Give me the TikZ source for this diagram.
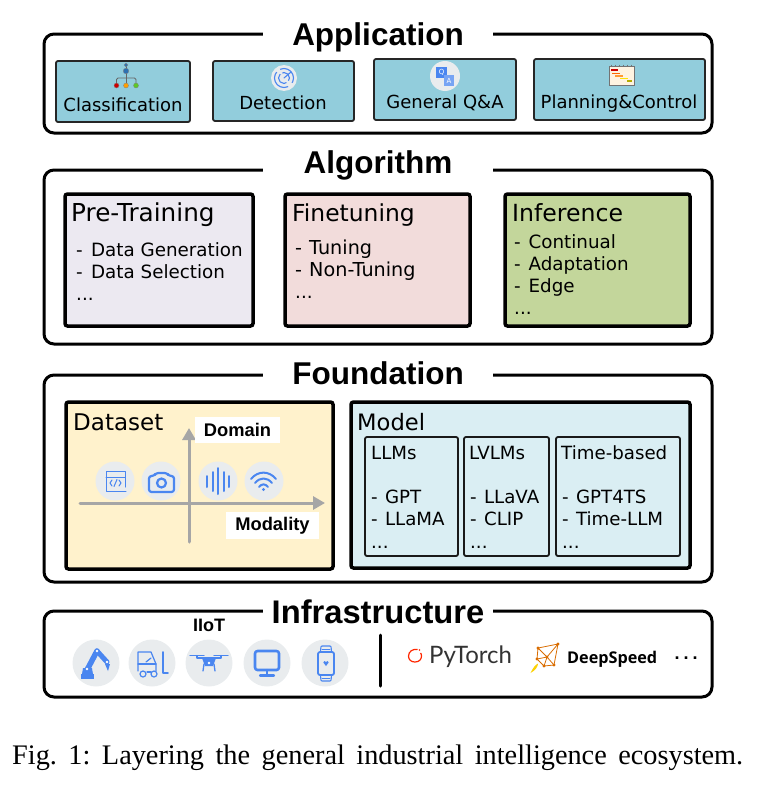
\documentclass[tikz,border=0pt]{standalone}
\usepackage{fontspec}
\setmainfont{DejaVu Sans}
\newfontfamily\headfont{Liberation Sans}
\newfontfamily\capfont{Liberation Serif}
\newfontfamily\torchfont{Lato}
\newfontfamily\speedfont{Open Sans}
\usetikzlibrary{arrows.meta}
\definecolor{iconblue}{HTML}{4A86F0}
\definecolor{discgray}{HTML}{E9ECEE}
\definecolor{axisgray}{HTML}{A6A6A6}
\newcommand{\itemdash}[1]{-\kern#1\ }
\tikzset{
    layerbox/.style={draw=black, line width=3pt, rounded corners=10pt},
    layertitle/.style={anchor=base, fill=white, inner sep=0pt, minimum width=230pt, minimum height=32pt, font=\headfont\bfseries\fontsize{31.5}{36}\selectfont},
    appbox/.style={draw=black!85, line width=1.8pt, rounded corners=2pt, fill=appblue},
    apptext/.style={anchor=base, inner sep=0pt, font=\fontsize{18}{22}\selectfont},
    stagebox/.style={draw=black, line width=3.5pt, rounded corners=2.5pt},
    stagetitle/.style={anchor=base west, inner sep=0pt, font=\fontsize{24.7}{28}\selectfont},
    itemtext/.style={anchor=base west, inner sep=0pt, font=\fontsize{18.3}{22}\selectfont},
    subbox/.style={draw=black!90, line width=1.8pt, rounded corners=2pt},
    subtext/.style={anchor=base west, inner sep=0pt, font=\fontsize{18.2}{22}\selectfont},
    axisline/.style={draw=axisgray, line width=3pt, line cap=round, -{Triangle[length=12pt,width=13pt]}},
    axislabel/.style={fill=white, inner sep=0pt, font=\headfont\bfseries\fontsize{18.3}{22}\selectfont},
    icondisc/.style={circle, fill=discgray, inner sep=0pt, minimum size=#1},
    iconline/.style={draw=iconblue, line width=1.5pt, line cap=round, line join=round},
}
\definecolor{appblue}{HTML}{92CDDC}
\definecolor{pregray}{HTML}{ECE9F1}
\definecolor{finered}{HTML}{F2DCDB}
\definecolor{infgreen}{HTML}{C3D69B}
\definecolor{datayellow}{HTML}{FFF2CC}
\definecolor{modelblue}{HTML}{DAEEF3}
\begin{document}
\begin{tikzpicture}[x=1pt, y=-1pt]
    \useasboundingbox (0,0) rectangle (783,811);

    % layer frames
    \draw[layerbox] (44,34) rectangle (712,133);
    \draw[layerbox] (44,170) rectangle (712,344);
    \draw[layerbox] (44,375) rectangle (712,582);
    \draw[layerbox] (44,611) rectangle (712,697);
    \node[layertitle] (apptitle) at (378,45) {Application};
    \node[layertitle] (algtitle) at (378,173) {Algorithm};
    \node[layertitle] (foundtitle) at (378,384) {Foundation};
    \node[layertitle, font=\headfont\bfseries\fontsize{32.7}{36}\selectfont] (infratitle) at (378,623) {Infrastructure};

    % application
    \draw[appbox] (56,61) rectangle (190,122);
    \draw[appbox] (213,61) rectangle (354,121);
    \draw[appbox] (374,59) rectangle (516,120);
    \draw[appbox] (534,59) rectangle (705,120);
    \node[apptext] (classlabel) at (123,111) {Classification};
    \node[apptext] (detectlabel) at (283,109) {Detection};
    \node[apptext] (qalabel) at (445,108) {General Q\&A};
    \node[apptext] (planlabel) at (619,108) {Planning\&Control};

    % tree icon
    \draw[draw=black!60, line width=0.8pt, rounded corners=1.5pt] (116.5,85) -- (116.5,78) -- (136,78) -- (136,85);
    \draw[draw=black!60, line width=0.8pt] (126,66) -- (126,85);
    \fill[fill=cyan!55!blue!85!black, draw=black!50, line width=0.3pt] (126,65) circle (1.8);
    \fill[fill=cyan!55!blue!85!black, draw=black!50, line width=0.3pt] (126,71) circle (2.8);
    \fill[fill=red!80!black, draw=black!50, line width=0.3pt] (116.5,85.5) circle (2.5);
    \fill[fill=orange!75!yellow, draw=black!50, line width=0.3pt] (126,85.5) circle (2.5);
    \fill[fill=green!50!olive!85, draw=black!50, line width=0.3pt] (136,85.5) circle (2.5);

    % radar icon
    \node[icondisc=26pt] (detectdisc) at (284,78) {};
    \draw[iconline, line width=1.1pt] (284,78) circle (9.5);
    \draw[iconline, line width=1.1pt] (284,78) circle (5.5);
    \draw[iconline, line width=1.1pt] (284,78) -- (291,72);
    \fill[discgray] (275,71) -- (279,68) -- (284,76) -- cycle;
    \fill[discgray] (289,88) -- (294,84) -- (285,79) -- cycle;

    % q and a icon
    \node[icondisc=30pt] (qadisc) at (445,76) {};
    \fill[iconblue] (436,67) rectangle (447,78);
    \fill[iconblue!75] (444,75) rectangle (454,86);
    \node[inner sep=0pt, text=white, font=\fontsize{7}{8}\selectfont] (qaq) at (441.5,72.5) {Q};
    \node[inner sep=0pt, text=white, font=\fontsize{7}{8}\selectfont] (qaa) at (449,81) {A};

    % gantt icon
    \draw[fill=yellow!12!orange!10, draw=black!55, line width=0.9pt] (609.5,66) rectangle (634,85);
    \foreach \xx in {611,615,619,623,627,631}
        \draw[draw=black!55, line width=0.7pt] (\xx,64.5) -- (\xx,66);
    \draw[draw=red!80!black, line width=1.1pt] (611,70) -- (618,70);
    \draw[draw=orange!80!red, line width=1.1pt] (612,73.5) -- (620,73.5);
    \draw[draw=orange!80, line width=1.1pt] (615,76) -- (623,76);
    \draw[draw=yellow!85!orange, line width=1.1pt] (620,78.5) -- (628,78.5);
    \draw[draw=olive!65!yellow, line width=1.1pt] (627,81) -- (632,81);

    % algorithm
    \draw[stagebox, fill=pregray] (65,194) rectangle (253,326);
    \node[stagetitle] (pretitle) at (71,221) {Pre-Training};
    \node[itemtext] (pregen) at (76,256) {\itemdash{2.5pt}Data Generation};
    \node[itemtext] (presel) at (76,278) {\itemdash{2.5pt}Data Selection};
    \node[itemtext] (predots) at (76,300) {...};

    \draw[stagebox, fill=finered] (285,194) rectangle (470,326);
    \node[stagetitle, font=\fontsize{23.4}{28}\selectfont] (finetitle) at (292,221) {Finetuning};
    \node[itemtext, font=\fontsize{19.2}{22}\selectfont] (finetune) at (295,254) {\itemdash{1pt}Tuning};
    \node[itemtext, font=\fontsize{19.2}{22}\selectfont] (finenon) at (295,276) {\itemdash{1pt}Non-Tuning};
    \node[itemtext] (finedots) at (295,298) {...};

    \draw[stagebox, fill=infgreen] (505,194) rectangle (690,326);
    \node[stagetitle, font=\fontsize{23.6}{28}\selectfont] (inftitle) at (512,221) {Inference};
    \node[itemtext] (infcont) at (514,248) {\itemdash{2pt}Continual};
    \node[itemtext] (infadapt) at (514,270) {\itemdash{2pt}Adaptation};
    \node[itemtext] (infedge) at (514,292) {\itemdash{2pt}Edge};
    \node[itemtext] (infdots) at (514,314) {...};

    % dataset
    \draw[stagebox, fill=datayellow] (66,402) rectangle (333,569);
    \node[stagetitle, font=\fontsize{23}{28}\selectfont] (datatitle) at (73,430) {Dataset};
    \coordinate (xstart) at (80,503);
    \coordinate (xend) at (325,503);
    \coordinate (ystart) at (189,542);
    \coordinate (yend) at (189,428);
    \draw[axisline] (xstart) -- (xend);
    \draw[axisline] (ystart) -- (yend);
    \node[axislabel, minimum width=85pt, minimum height=26pt] (domainlabel) at (237.5,429.5) {Domain};
    \node[axislabel, minimum width=93pt, minimum height=27pt] (modallabel) at (272.5,525.5) {Modality};

    \node[icondisc=39pt] (codedisc) at (115,481) {};
    \node[icondisc=39pt] (cameradisc) at (161,481) {};
    \node[icondisc=39pt] (sounddisc) at (218,481) {};
    \node[icondisc=39pt] (wifidisc) at (264,481) {};

    % code window
    \draw[iconline, line width=1pt] (126,491) -- (106,491) -- (106,471) -- (125,471) -- (125,487);
    \draw[iconline, line width=1pt] (106,477) -- (125,477);
    \draw[iconline, line width=1pt] (112,480) -- (110,483) -- (112,486);
    \draw[iconline, line width=1pt] (119,480) -- (121,483) -- (119,486);
    \draw[iconline, line width=1pt] (117,479.5) -- (114,486.5);
    % camera
    \draw[iconline, line width=2.2pt, rounded corners=2.5pt] (149,476) -- (154,476) -- (156,473) -- (167,473) -- (169,476) -- (174,476) -- (174,492) -- (149,492) -- cycle;
    \draw[iconline, line width=2.2pt] (161.5,483) circle (4.5);
    % sound bars
    \draw[iconline, line width=2pt] (207,476) -- (207,487);
    \draw[iconline, line width=2pt] (212.5,472) -- (212.5,491);
    \draw[iconline, line width=2pt] (218,468) -- (218,494);
    \draw[iconline, line width=2pt] (223.5,472) -- (223.5,491);
    \draw[iconline, line width=2pt] (228.5,476) -- (228.5,487);
    % wifi
    \draw[iconline, line width=2pt] (251,479) .. controls (258,470.5) and (269,470.5) .. (276,479);
    \draw[iconline, line width=2pt] (255,483) .. controls (260,477) and (267,477) .. (272,483);
    \draw[iconline, line width=2pt] (259,487) .. controls (261.5,483.5) and (265.5,483.5) .. (268,487);
    \fill[iconblue] (263.5,489.5) circle (1.7);

    % model
    \draw[stagebox, fill=modelblue] (351,402) rectangle (690,568);
    \node[stagetitle, font=\fontsize{22.6}{28}\selectfont] (modeltitle) at (357,430) {Model};
    \draw[subbox] (365,437) rectangle (458,556);
    \draw[subbox] (464,437) rectangle (549,556);
    \draw[subbox] (556,437) rectangle (680,556);
    \node[subtext] (llmtitle) at (371,459) {LLMs};
    \node[subtext] (llmgpt) at (371,503) {\itemdash{1.5pt}GPT};
    \node[subtext] (llmllama) at (371,525) {\itemdash{1.5pt}LLaMA};
    \node[subtext] (llmdots) at (371,548) {...};
    \node[subtext] (lvlmtitle) at (469,459) {LVLMs};
    \node[subtext] (lvlmllava) at (470,503) {\itemdash{1.5pt}LLaVA};
    \node[subtext] (lvlmclip) at (470,525) {\itemdash{1.5pt}CLIP};
    \node[subtext] (lvlmdots) at (470,548) {...};
    \node[subtext] (timetitle) at (561,459) {Time-based};
    \node[subtext] (timegpt) at (562,503) {\itemdash{1.5pt}GPT4TS};
    \node[subtext] (timellm) at (562,525) {\itemdash{1.5pt}Time-LLM};
    \node[subtext] (timedots) at (562,548) {...};

    % infrastructure
    \node[inner sep=0pt, font=\headfont\bfseries\fontsize{18}{22}\selectfont] (iiotlabel) at (209,625) {IIoT};
    \node[icondisc=47pt] (robotdisc) at (96,663) {};
    \node[icondisc=47pt] (forkdisc) at (152,663) {};
    \node[icondisc=47pt] (dronedisc) at (209,663) {};
    \node[icondisc=47pt] (screendisc) at (267,663) {};
    \node[icondisc=47pt] (watchdisc) at (325,663) {};

    % robot arm
    \fill[iconblue] (81,674) rectangle (94,679);
    \draw[iconline, line width=5.5pt] (87,670) -- (97,651);
    \draw[iconline, line width=5pt] (97,651) -- (107,662);
    \fill[iconblue] (83,668) -- (92,668) -- (93,674) -- (82,674) -- cycle;
    \fill[iconblue] (105,664) -- (110,664) -- (108,671) -- cycle;
    \fill[white] (97,651) circle (1.3);
    \fill[white] (87,669) circle (1.3);
    \fill[white] (107,662) circle (1.3);
    % forklift
    \draw[iconline, line width=1.2pt] (138,671) -- (138,652) -- (151,652) -- (156,664) -- (156,671);
    \draw[iconline, line width=1.2pt] (138,664) -- (156,664);
    \draw[iconline, line width=1.2pt] (147,672) -- (151,672);
    \draw[iconline, line width=1.2pt] (146,662) -- (151,658);
    \draw[iconline, line width=1.6pt] (163,652) -- (163,673) -- (168,673);
    \draw[iconline, line width=1.2pt] (143,674) circle (3);
    \draw[iconline, line width=1.2pt] (154,674) circle (3);
    % drone
    \draw[iconline, line width=1.1pt] (190,655.5) -- (204,655.5);
    \draw[iconline, line width=1.1pt] (214,655.5) -- (228,655.5);
    \draw[iconline, line width=1.3pt] (197,655.5) -- (197,658) -- (221,658) -- (221,655.5);
    \fill[iconblue] (202,658) -- (216,658) -- (213,666) -- (205,666) -- cycle;
    \fill[white] (209,663) circle (1.4);
    \draw[iconline, line width=1.3pt] (204,664) -- (203,671);
    \draw[iconline, line width=1.3pt] (214,664) -- (215,671);
    % monitor
    \draw[iconline, line width=2.6pt, rounded corners=2.5pt] (255,651) rectangle (279,670);
    \draw[iconline, line width=2.2pt] (267,670) -- (267,674);
    \draw[iconline, line width=2.2pt] (260,675.5) -- (274,675.5);
    % watch
    \draw[iconline, line width=1.8pt, rounded corners=2pt] (318,652) rectangle (334,675);
    \draw[iconline, line width=1.1pt, rounded corners=1pt] (320.5,652) -- (321,646) -- (331,646) -- (331.5,652);
    \draw[iconline, line width=1.1pt, rounded corners=1pt] (320.5,675) -- (321,681) -- (331,681) -- (331.5,675);
    \draw[iconline, line width=0.8pt] (322,649) -- (330,649);
    \draw[iconline, line width=0.8pt] (322,678) -- (330,678);
    \fill[iconblue] (326,666) -- (323.3,662.5) -- (324.5,661) -- (326,662) -- (327.5,661) -- (328.7,662.5) -- cycle;

    % divider
    \coordinate (dividertop) at (380,635);
    \coordinate (dividerbot) at (380,686);
    \draw[draw=black, line width=3pt, line cap=round] (dividertop) -- (dividerbot);

    % pytorch
    \draw[draw=red!70!orange, line width=1.2pt] (417.5,649.5) .. controls (413,648.5) and (408.5,651.5) .. (408.5,656) .. controls (408.5,660) and (411.5,662) .. (415,662) .. controls (419,662) and (421.5,659.5) .. (421.5,656) .. controls (421.5,654.5) and (421,653.5) .. (420.5,653);
    \fill[red!70!orange] (419.5,650) circle (0.9);
    \node[anchor=base west, inner sep=0pt, text=black!80, font=\torchfont\fontsize{24}{28}\selectfont] (torchlabel) at (429,663) {PyTorch};

    % deepspeed
    \coordinate (dsa) at (538,648);
    \coordinate (dsb) at (558,644);
    \coordinate (dsc) at (547,657);
    \coordinate (dsd) at (537,659);
    \coordinate (dse) at (544,666);
    \coordinate (dsf) at (554,665);
    \draw[draw=orange!85!black, line width=0.8pt] (dsa) -- (dsb) -- (dsf) -- (dse) -- (dsd) -- (dsa) -- (dsc) -- (dsb);
    \draw[draw=orange!85!black, line width=0.8pt] (dsd) -- (dsc) -- (dsf);
    \draw[draw=orange!85!black, line width=0.8pt] (dsc) -- (dse);
    \foreach \dsn in {dsa,dsb,dsc,dsd,dse,dsf}
        \fill[orange!85!black] (\dsn) circle (1.7);
    \fill[yellow!70!orange] (530.5,673) .. controls (533,668) and (535,665) .. (538,663.5) .. controls (538,667) and (535,670.5) .. cycle;
    \node[anchor=base west, inner sep=0pt, font=\speedfont\bfseries\fontsize{16.2}{20}\selectfont] (speedlabel) at (567,663) {DeepSpeed};
    \node[inner sep=0pt, anchor=base, font=\headfont\bfseries\fontsize{18}{20}\selectfont] (moredots) at (686,659) {.\kern4pt.\kern4pt.};

    % caption
    \node[anchor=base west, inner sep=0pt, font=\capfont\fontsize{28.3}{32}\selectfont] (caption) at (12,764) {\frenchspacing\makebox[731pt][s]{Fig. 1: Layering the general industrial intelligence ecosystem.}};
\end{tikzpicture}
\end{document}
